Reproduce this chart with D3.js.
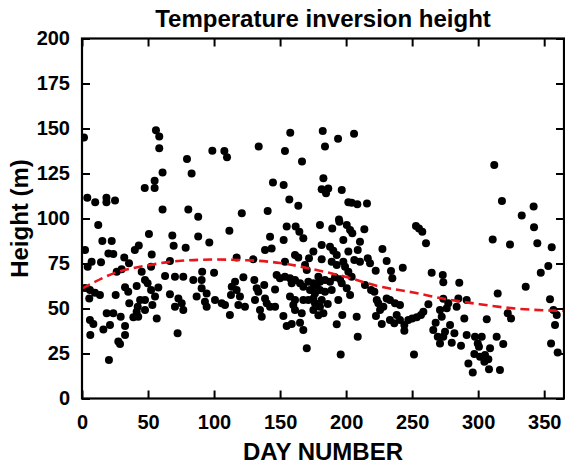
<!DOCTYPE html>
<html>
<head>
<meta charset="utf-8">
<script src="https://cdn.jsdelivr.net/npm/d3@7"></script>
<style>
  html, body { margin: 0; padding: 0; background: #fff; }
  svg text { font-family: "Liberation Sans", Arial, sans-serif; font-weight: bold; fill: #000; }
</style>
</head>
<body>
<svg id="chart" width="565" height="465"></svg>
<script>
// ---- data ----
const xTicks = [0, 50, 100, 150, 200, 250, 300, 350];
const yTicks = [0, 25, 50, 75, 100, 125, 150, 175, 200];

// scatter points: [day, height]
const points = [
[1.5,145],[56,149],[58.5,145.5],[58.5,139],[79.5,133],[83,125],[61,125.5],[55,121],[47.5,117],[55,117],
[4,111.5],[10,109],[18.5,111.5],[18.5,109],[25,110],[61,105],[80.5,105],[88,101],
[12.3,96.4],[50.7,91.4],[68.4,90.6],[15.4,87.5],[22.5,87.5],[69.4,84.9],[88,90],[43,85],[40,82.5],[78.5,83.8],
[2.3,82.5],[20,80.6],[23.7,80.3],[52.8,80],[32,78.4],[7.3,76],[14.4,75.7],[4.3,73.2],[35.6,75.1],[30,71.8],
[26.3,70.4],[45.2,70.4],[52.3,73.2],[66.6,76.4],[62.9,68],[70.4,67.7],[76.7,67.7],[84.3,65.8],[91,70.4],
[47.7,65.8],[49.7,64],[41.4,62.5],[57.8,61.6],[52.3,60.3],[32.6,61.8],[35,59.3],[6,60.3],[9.8,58.8],[13.6,57.5],
[5.5,55.6],[25.5,57.5],[66.6,57.9],[73,55.6],[75.5,52.9],[55.3,56.6],[47.7,54.7],[44,54.7],[35.8,52.9],[42.2,51],
[53.3,51.9],[70.4,51],[76.7,49.2],[47.7,49.2],[41.4,48.2],[18.7,47.3],[23.7,47.3],[29.3,45.4],[38.9,45.1],
[42.6,45.4],[56.6,44.5],[6,43.6],[8.6,41.4],[32.6,40.3],[21.2,40.8],[16.2,38.4],[32.6,35.3],[6.3,35.3],[72.4,36.2],
[27.5,31.6],[28.8,30.3],[20.4,21.4],[2.3,61.4],
[98.7,137.7],[107.8,137.5],[109.8,134],[133.8,140],[157.7,147.7],[153.7,137.5],[166.6,131.6],[182.3,148.6],
[184,140],[144.6,120],[152.7,118.6],[157,110.6],[163.8,107.1],[182.8,122.3],[181.5,116.2],[121,102.9],[140.6,104.2],
[193.9,144.3],[206,147.1],[186.5,116.7],[184.8,114],[196.7,115.8],[201.7,109],[204.2,108.8],[208.5,107.9],
[215.8,108.4],[194.6,99.5],
[111.6,93.2],[96.4,86.6],[142.4,89.9],[152.7,88],[155,95.5],[161.8,95.5],[164.6,92.7],[167.6,89],[180.2,96.4],
[181.5,85.3],[138.6,82.5],[143.6,83.4],[175.2,81.6],[161.3,79.7],[163.8,78.4],[171.9,77.9],[153.7,76],[117.1,78.4],
[129.7,77.3],[168.9,74.2],[170.2,71.4],[90.6,65.8],[90.6,61.2],[86.8,56.6],[100,69.9],[122.2,67.3],[115.9,64.9],
[113.4,62.1],[117.1,60.3],[130.5,65.8],[132.3,61.2],[138,63.1],[133.5,59.3],[147.4,68.6],[149.9,66.8],[153.7,67.7],
[157.5,66.8],[158.8,64],[146.2,60.6],[161.3,65.8],[165.1,64],[167.6,62.1],[171.4,64.9],[175.2,64],[177.7,63.1],
[180.2,64.9],[172.7,60.3],[176.4,58.4],[157.5,56.6],[161.3,54.7],[167.6,54.7],[171.4,54.7],[175.2,55.6],[176.4,52.9],
[180.2,51],[175.2,49.2],[179,46.3],[182.8,47.3],[160,51.9],[161.3,49.2],[166.4,47.3],[94.4,58.4],[100.7,54.7],
[105.8,52.9],[108.3,51.9],[93.1,53.8],[94.4,51],[112.8,57.5],[119.6,56.6],[118.4,51.9],[123.4,51],[112,46.4],
[131,54.7],[138.6,55.6],[139.9,52.9],[142.4,51],[146.2,51],[134.8,49.2],[136.1,45.4],[152.5,45.8],[155,40.3],
[158.8,41.4],[165.1,42.1],[167.6,38],[170.2,27.9],
[189.5,94.5],[194.9,98.2],[200.5,96.4],[203,93.6],[204.7,91.8],[213.8,94],[197.9,88],[187.8,84.3],[190.3,82.1],
[192.9,79.7],[181.5,77.3],[201.7,81.6],[208.8,82.5],[210.5,87.1],[206.2,76.9],[210.5,76],[216.4,77.9],[227.5,83],
[218.1,75.1],[230.7,76.4],[222.4,71],[234,70.8],[235,66.8],[242.9,72.7],[189.1,76],[192.9,74.2],[197.9,76],
[199.2,73.2],[201.7,70.4],[204.2,67.7],[179,67.7],[184,65.8],[187.8,64.9],[191.6,67.3],[195.4,66.2],[196.7,64],
[176.4,62.1],[180.2,60.3],[184,59.3],[189.1,60.3],[200.5,61.2],[203,57.5],[214.3,63.1],[218.9,60.3],[221.4,59.3],
[181.5,54.7],[194.1,54.7],[186.1,52.5],[223.2,54.7],[224.4,52.9],[228.2,51],[225.7,49.2],[230.7,55.6],[233.2,54.7],
[237,52.9],[240.8,51.9],[197.1,46.4],[208,45.4],[192.9,41.2],[222.6,45.8],[227,41.4],[233.2,43.6],[236.5,41.8],
[238.3,46.4],[240.8,43.6],[244.1,40.8],[244.1,37.7],[247.1,43.6],[250.1,44.5],[253.5,45.1],[256.7,46.4],[258.5,48.2],
[262.3,52.3],[264.8,69.9],[252.9,95.8],[255.2,94.5],[257.7,92.7],[260.5,86.2],[273.2,68.6],[273.6,64.6],[267.8,42.1],
[266,38],[269.4,34.3],[271.1,30.6],[273.6,34.3],[208.8,34.3],[195.9,24.5],[251.4,24.5],
[312.2,129.7],[318,109.7],[333,101.6],[342,106.6],
[342.3,95.1],[311,88.4],[324.1,85.6],[344.8,86.2],[355.7,84],[353.1,73.6],[347.4,69.9],[336,62.1],[314.8,58.4],
[354.4,55.1],[322.4,47.3],[324.9,44.5],[357,49.2],[359.5,46.4],[358.2,40.8],[355.2,30.6],[360.2,25.5],[306.5,44],
[314,34.3],[319,30.3],[297.6,34.3],[302.7,34.3],[299.7,30.6],[300.6,28.8],[309,27.9],[305.2,24.2],[297.1,24.7],
[301.4,23.2],[307.7,21.8],[304.7,20.4],[292.6,19.5],[295.9,14.5],[308.2,16.2],[316.5,15.8],[291.3,35.3],[289.5,44.5],
[287,29.3],[280,31],[278.7,40.8],[282,36.2],[274.9,37.1],[271.1,49.2],[272.4,45.4],[276.2,50.1],[277.4,52.9],
[273.6,55.4],[283.7,51],[285,55.6],[291.3,54.7],[285.7,64.3]
];

// fitted trend (red dashed)
const fitDays = [0, 25, 50, 75, 100, 125, 150, 175, 200, 225, 250, 275, 300, 325, 350, 365];
const fitVals = [61, 69.8, 74, 76.5, 77.2, 76.8, 75.3, 71.8, 67.5, 62.3, 59, 55.3, 52.5, 50.2, 49, 48.8];

// ---- layout ----
const pLeft = 82, pRight = 564, pTop = 38.5, pBottom = 398.5;
const svg = d3.select("#chart");

const x = d3.scaleLinear().domain([0, 365]).range([pLeft, pRight]);
const y = d3.scaleLinear().domain([0, 200]).range([pBottom, pTop]);

svg.append("defs").append("clipPath").attr("id", "plotclip")
  .append("rect").attr("x", pLeft).attr("y", pTop).attr("width", pRight - pLeft).attr("height", pBottom - pTop);

// points
svg.append("g").attr("clip-path", "url(#plotclip)")
  .selectAll("circle").data(points).join("circle")
  .attr("cx", d => x(d[0])).attr("cy", d => y(d[1])).attr("r", 4)
  .attr("fill", "#000");

// fit line
const fitData = fitDays.map((d, i) => [d, fitVals[i]]);
svg.append("path").datum(fitData)
  .attr("clip-path", "url(#plotclip)")
  .attr("fill", "none").attr("stroke", "#e8161b").attr("stroke-width", 2.6)
  .attr("stroke-dasharray", "9,5")
  .attr("d", d3.line().x(d => x(d[0])).y(d => y(d[1])).curve(d3.curveMonotoneX));

// axes (ticks inward)
const tl = 8;
const gB = svg.append("g").attr("transform", `translate(0,${pBottom})`)
  .call(d3.axisBottom(x).tickValues(xTicks).tickSize(-tl).tickPadding(16).tickFormat(d3.format("d")));
const gT = svg.append("g").attr("transform", `translate(0,${pTop})`)
  .call(d3.axisTop(x).tickValues(xTicks).tickSize(-tl).tickFormat(""));
const gL = svg.append("g").attr("transform", `translate(${pLeft},0)`)
  .call(d3.axisLeft(y).tickValues(yTicks).tickSize(-tl).tickPadding(12).tickFormat(d3.format("d")));
const gR = svg.append("g").attr("transform", `translate(${pRight},0)`)
  .call(d3.axisRight(y).tickValues(yTicks).tickSize(-tl).tickFormat(""));

[gB, gT, gL, gR].forEach(g => {
  g.select(".domain").remove();
  g.selectAll(".tick line").attr("stroke", "#000").attr("stroke-width", 2);
  g.selectAll(".tick text").style("font-size", "20px").style("font-family", "'Liberation Sans', Arial, sans-serif").style("font-weight", "bold").attr("fill", "#000");
});

// frame
svg.append("rect").attr("x", pLeft).attr("y", pTop).attr("width", pRight - pLeft).attr("height", pBottom - pTop)
  .attr("fill", "none").attr("stroke", "#000").attr("stroke-width", 2.2);

// titles
svg.append("text").attr("x", (pLeft + pRight) / 2).attr("y", 27).attr("text-anchor", "middle")
  .style("font-size", "24px").text("Temperature inversion height");
svg.append("text").attr("x", (pLeft + pRight) / 2).attr("y", 460).attr("text-anchor", "middle")
  .style("font-size", "24px").text("DAY NUMBER");
svg.append("text").attr("transform", `translate(28,${(pTop + pBottom) / 2}) rotate(-90)`).attr("text-anchor", "middle")
  .style("font-size", "24px").text("Height (m)");
</script>
</body>
</html>
